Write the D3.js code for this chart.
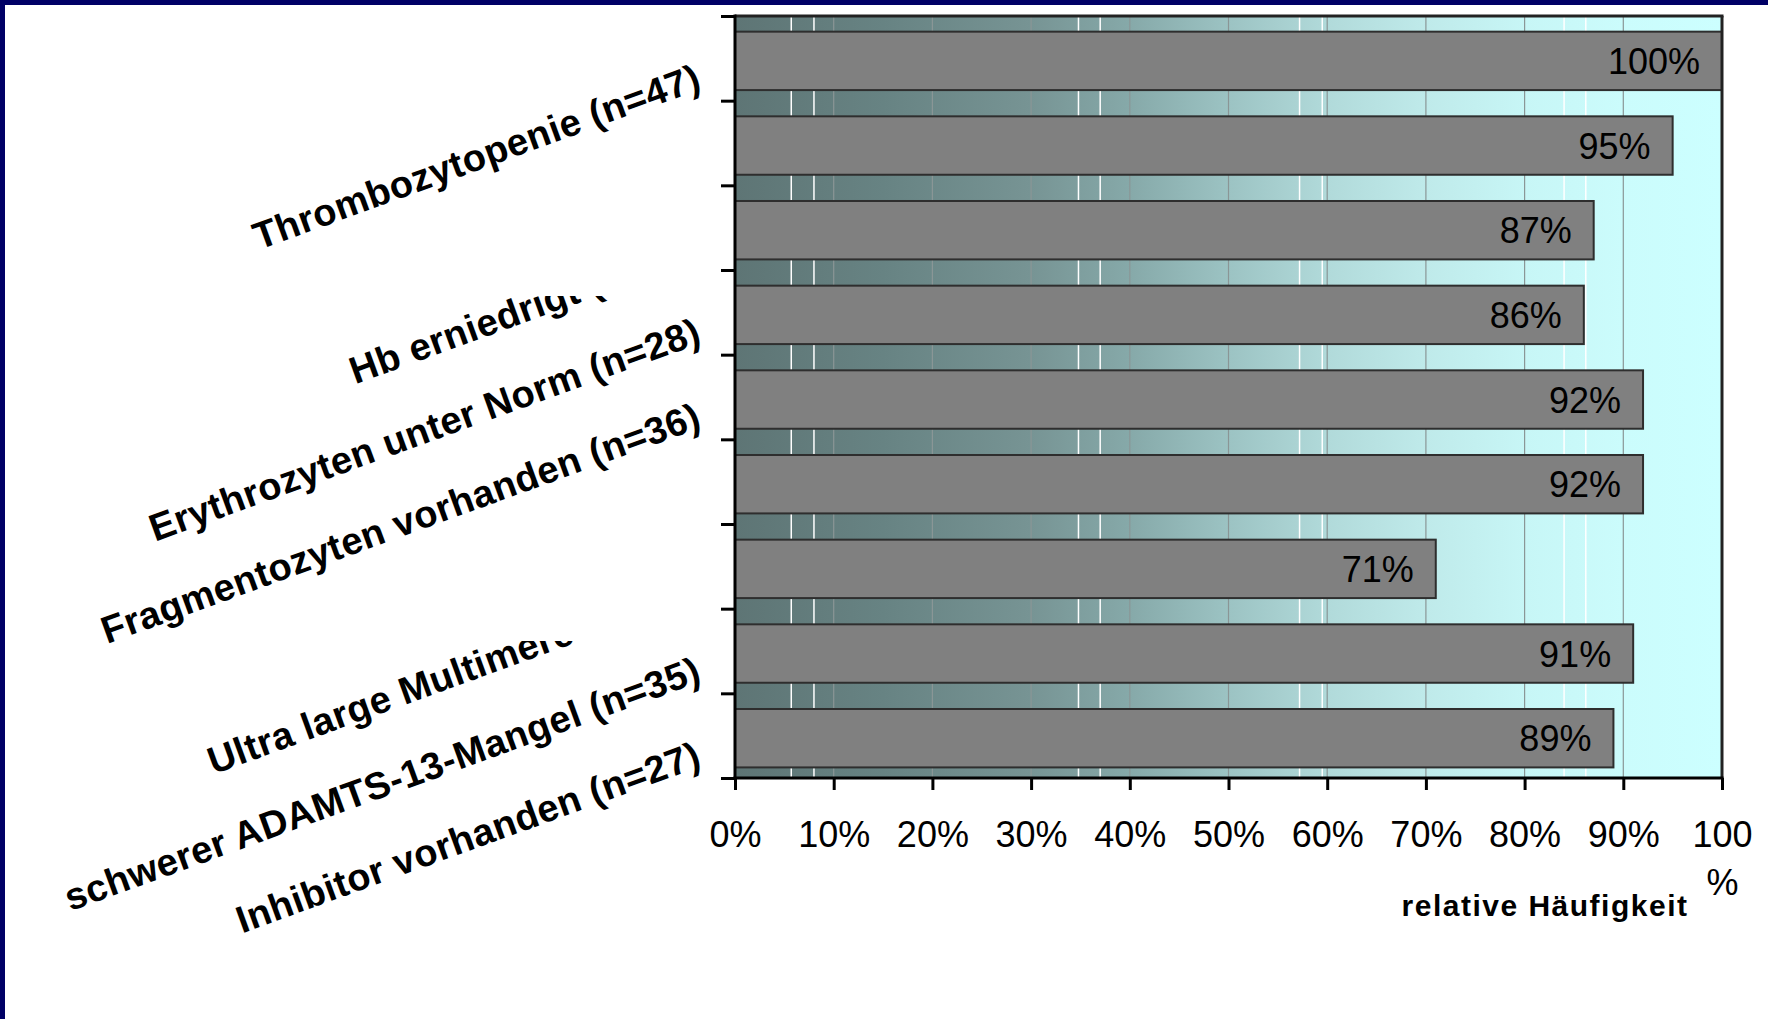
<!DOCTYPE html>
<html>
<head>
<meta charset="utf-8">
<script src="https://cdn.jsdelivr.net/npm/d3@7"></script>
<style>
  html, body { margin: 0; padding: 0; background: #ffffff; }
  svg { display: block; }
  text { font-family: "Liberation Sans", Arial, Helvetica, sans-serif; fill: #000; }
</style>
</head>
<body>
<svg id="chart" width="1768" height="1019"></svg>
<script>
// Category labels, top to bottom (two rows carry no label of their own)
const categories = [
  "Thrombozytopenie (n=47)",
  "",
  "Hb erniedrigt (",
  "Erythrozyten unter Norm (n=28)",
  "Fragmentozyten vorhanden (n=36)",
  "",
  "Ultra large Multimere",
  "schwerer ADAMTS-13-Mangel (n=35)",
  "Inhibitor vorhanden (n=27)"
];
// Relative frequency in percent
const values = [100, 95, 87, 86, 92, 92, 71, 91, 89];
// Axis ticks (percent)
const tickValues = [0, 10, 20, 30, 40, 50, 60, 70, 80, 90, 100];
const tickLabels = ["0%", "10%", "20%", "30%", "40%", "50%", "60%", "70%", "80%", "90%", "100%"];
const axisTitle = "relative Häufigkeit";
// Light streaks in the textured plot background (percent positions)
const sheenLines = [5.7, 8.0, 34.8, 37.0, 57.2, 59.5, 84.0, 86.2];

const svg = d3.select("#chart");
const W = 1768, H = 1019;
const plot = { left: 735, right: 1722, top: 16, bottom: 778 };

const x = d3.scaleLinear().domain([0, 100]).range([plot.left, plot.right]);
const y = d3.scaleBand().domain(d3.range(categories.length)).range([plot.top, plot.bottom]);
const yEdge = d3.scaleLinear().domain([0, categories.length]).range([plot.top, plot.bottom]);

// navy slide frame
svg.append("rect").attr("x", 0).attr("y", 0).attr("width", W).attr("height", 5).attr("fill", "#000066");
svg.append("rect").attr("x", 0).attr("y", 0).attr("width", 5).attr("height", H).attr("fill", "#000066");

// background gradient
const defs = svg.append("defs");
const grad = defs.append("linearGradient").attr("id", "bg").attr("x1", 0).attr("x2", 1).attr("y1", 0).attr("y2", 0);
[[0, "#5e7575"], [0.15, "#678383"], [0.3, "#779494"], [0.4, "#86a9a9"], [0.5, "#9cc3c3"],
 [0.6, "#b1dada"], [0.7, "#bfeaea"], [0.8, "#c7f6f6"], [0.9, "#cbfcfc"], [1, "#ccffff"]]
  .forEach(([o, c]) => grad.append("stop").attr("offset", o).attr("stop-color", c));

svg.append("rect")
  .attr("x", plot.left).attr("y", plot.top)
  .attr("width", plot.right - plot.left).attr("height", plot.bottom - plot.top)
  .attr("fill", "url(#bg)");

// gridlines
svg.append("g").selectAll("line").data(tickValues.slice(1, -1)).join("line")
  .attr("x1", d => x(d)).attr("x2", d => x(d))
  .attr("y1", plot.top).attr("y2", plot.bottom)
  .attr("stroke", "#8a9696").attr("stroke-width", 1.2);
svg.append("g").selectAll("line").data(sheenLines).join("line")
  .attr("x1", d => x(d)).attr("x2", d => x(d))
  .attr("y1", plot.top).attr("y2", plot.bottom)
  .attr("stroke", "#ffffff").attr("stroke-width", 1.5);

// bars
const bw = y.bandwidth();
svg.append("g").selectAll("rect").data(values).join("rect")
  .attr("x", x(0))
  .attr("y", (d, i) => y(i) + bw * 0.185)
  .attr("width", d => x(d) - x(0))
  .attr("height", bw * 0.69)
  .attr("fill", "#808080")
  .attr("stroke", "#2e2e2e").attr("stroke-width", 2);

// value labels
svg.append("g").selectAll("text").data(values).join("text")
  .attr("x", d => x(d) - 22)
  .attr("y", (d, i) => y(i) + bw * 0.185 + bw * 0.345)
  .attr("dy", "0.36em")
  .attr("text-anchor", "end")
  .attr("font-size", 36)
  .text(d => d + "%");

// plot frame (top and right)
svg.append("line").attr("x1", plot.left).attr("x2", plot.right + 1.5)
  .attr("y1", plot.top).attr("y2", plot.top).attr("stroke", "#222").attr("stroke-width", 3);
svg.append("line").attr("x1", plot.right).attr("x2", plot.right)
  .attr("y1", plot.top).attr("y2", plot.bottom).attr("stroke", "#222").attr("stroke-width", 3);

// category axis ticks
const yAxis = d3.axisLeft(yEdge).tickValues(d3.range(categories.length + 1)).tickSize(14).tickFormat("");
const gy = svg.append("g").attr("transform", `translate(${plot.left},0)`).call(yAxis);
gy.select(".domain").remove();
gy.selectAll(".tick line").attr("stroke", "#000").attr("stroke-width", 3);
svg.append("line").attr("x1", plot.left).attr("x2", plot.left)
  .attr("y1", plot.top - 1.5).attr("y2", plot.bottom + 1.5).attr("stroke", "#000").attr("stroke-width", 3);

// value axis
const xAxis = d3.axisBottom(x).tickValues(tickValues).tickSize(12).tickFormat((d, i) => tickLabels[i]);
const gx = svg.append("g").attr("transform", `translate(0,${plot.bottom})`).call(xAxis);
gx.select(".domain").remove();
gx.selectAll(".tick line").attr("stroke", "#000").attr("stroke-width", 3);
gx.selectAll(".tick text")
  .attr("y", 69).attr("dy", 0)
  .attr("font-size", 36).attr("font-family", null)
  .each(function (d, i) {
    const t = d3.select(this);
    const lab = tickLabels[i];
    if (d === 100) {
      t.text(null);
      t.append("tspan").attr("x", 0).text(lab.replace("%", ""));
      t.append("tspan").attr("x", 0).attr("dy", 48).text("%");
    }
  });
svg.append("line").attr("x1", plot.left - 1.5).attr("x2", plot.right + 1.5)
  .attr("y1", plot.bottom).attr("y2", plot.bottom).attr("stroke", "#000").attr("stroke-width", 3);

// axis title
svg.append("text")
  .attr("x", 1545).attr("y", 916)
  .attr("text-anchor", "middle")
  .attr("font-size", 30).attr("font-weight", "bold").attr("letter-spacing", 1.5)
  .text(axisTitle);

// rotated category labels
const angle = -20;
const rad = -angle * Math.PI / 180;
const labelEndX = 703, labelDrop = 30;
// labels that are partly covered: lead-in length along the baseline and screen-space cut line
const covered = { 2: { lead: 370, cutY: 296 }, 6: { lead: 521, cutY: 641 } };

const labelG = svg.append("g");
categories.forEach((c, i) => {
  if (!c) return;
  const cy = y(i) + bw / 2 + labelDrop;
  const g = labelG.append("g");
  const t = g.append("text")
    .attr("font-size", 38).attr("font-weight", "bold").attr("letter-spacing", 0.4)
    .text(c);
  if (covered[i]) {
    const cv = covered[i];
    const sx = labelEndX - cv.lead * Math.cos(rad);
    const sy = cy + cv.lead * Math.sin(rad);
    t.attr("text-anchor", "start").attr("transform", `translate(${sx},${sy}) rotate(${angle})`);
    const id = "cut" + i;
    defs.append("clipPath").attr("id", id).attr("clipPathUnits", "userSpaceOnUse")
      .append("rect").attr("x", 0).attr("y", cv.cutY).attr("width", plot.left).attr("height", H);
    g.attr("clip-path", `url(#${id})`);
  } else {
    t.attr("text-anchor", "end").attr("transform", `translate(${labelEndX},${cy}) rotate(${angle})`);
  }
});
</script>
</body>
</html>
